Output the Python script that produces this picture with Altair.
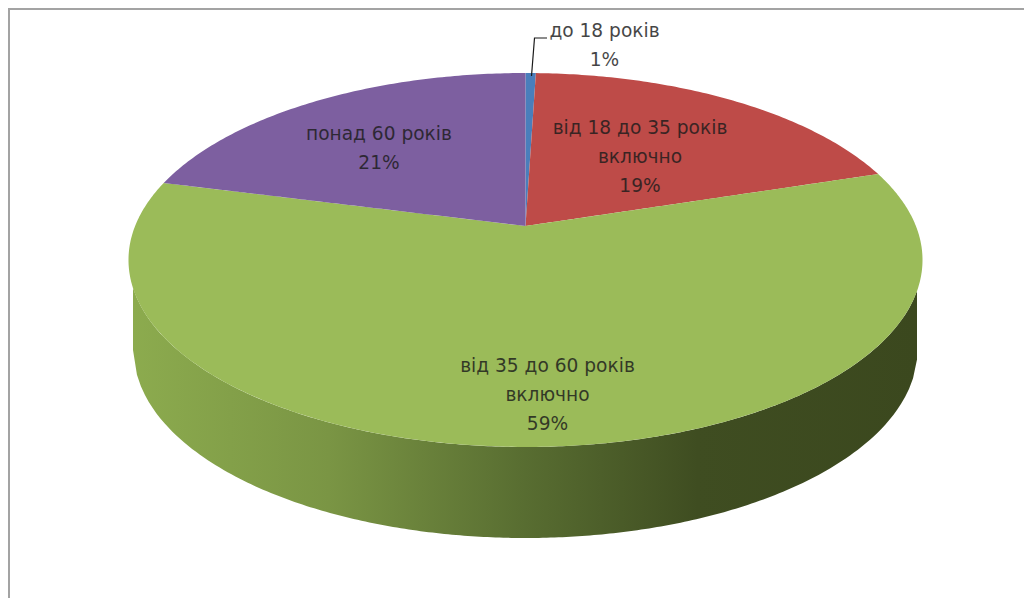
import numpy as np
import pandas as pd
import altair as alt

# Chart content
categories = ["до 18 років", "від 18 до 35 років", "від 35 до 60 років", "понад 60 років"]
values = [0.5, 19.6, 58.9, 21.0]
label_texts = ["до 18 років\n1%", "від 18 до 35 років\nвключно\n19%",
               "від 35 до 60 років\nвключно\n59%", "понад 60 років\n21%"]
colors = ["#4a7ebb", "#be4b48", "#9bbb59", "#7d5fa0"]

# Layout (image pixels)
W, H = 1016, 590
APEX_X, APEX_Y = 525.5, 226.0
P_S, P_A, P_C = 390.4, 180.8, 0.1817   # perspective of the pie's top face
label_x = [604.5, 640, 547.5, 379]
label_y = [31, 128, 366, 134]          # first line of each label


def project(angle):
    u, v = np.sin(angle), np.cos(angle)
    d = 1 + P_C * v
    return APEX_X + P_S * u / d, APEX_Y - P_A * v / d


def envelope(px, py):
    """Vertical extent of a closed polygon for each of its x positions."""
    xs = np.unique(np.round(px, 2))
    x1, y1 = px, py
    x2, y2 = np.roll(px, -1), np.roll(py, -1)
    top, bottom = [], []
    for x in xs:
        ys = []
        for a, b, c, d in zip(x1, y1, x2, y2):
            lo, hi = min(a, c) - 0.006, max(a, c) + 0.006
            if lo <= x <= hi:
                ys.append(b if abs(c - a) < 1e-9 else b + (d - b) * np.clip((x - a) / (c - a), 0, 1))
        top.append(min(ys))
        bottom.append(max(ys))
    return xs, np.array(top), np.array(bottom)


rows = []
edges = np.cumsum([0] + values) / sum(values) * 2 * np.pi
for i, cat in enumerate(categories):
    n = max(6, int(values[i] * 5))
    ang = np.linspace(edges[i], edges[i + 1], n)
    ax, ay = project(ang)
    px = np.concatenate([[APEX_X], ax])
    py = np.concatenate([[APEX_Y], ay])
    xs, t, b = envelope(px, py)
    for x, ty, by in zip(xs, t, b):
        rows.append({"cat": cat, "x": float(x), "y": float(ty), "y2": float(by)})
top_df = pd.DataFrame(rows)

# Side wall of the pie: lower half of the top face down to the lower rim
wall_x = np.linspace(133, 917, 200)
T_RX, T_RY, T_CY = 397.0, 187.0, 260.0
B_RX, B_RY, B_CY = 392.0, 188.0, 350.0
wall_y = T_CY + T_RY * np.sqrt(np.clip(1 - ((wall_x - APEX_X) / T_RX) ** 2, 0, 1))
wall_y2 = B_CY + B_RY * np.sqrt(np.clip(1 - ((wall_x - APEX_X) / B_RX) ** 2, 0, 1))
wall_df = pd.DataFrame({"x": wall_x, "y": wall_y, "y2": wall_y2})

X = alt.X("x:Q", axis=None, scale=alt.Scale(domain=[8, 8 + W], nice=False, zero=False))
Y = alt.Y("y:Q", axis=None, scale=alt.Scale(domain=[8, 8 + H], reverse=True, nice=False, zero=False))

wall = alt.Chart(wall_df).mark_area(
    line=False,
    color=alt.Gradient(
        gradient="linear", x1=0, x2=1, y1=0, y2=0,
        stops=[
            alt.GradientStop(offset=0, color="#8cab4e"),
            alt.GradientStop(offset=0.25, color="#7a9544"),
            alt.GradientStop(offset=0.5, color="#586d31"),
            alt.GradientStop(offset=0.72, color="#3f4d21"),
            alt.GradientStop(offset=1, color="#3b481e"),
        ],
    ),
).encode(x=X, y=Y, y2="y2:Q")

top = alt.Chart(top_df).mark_area(line=False).encode(
    x=X, y=Y, y2="y2:Q",
    color=alt.Color("cat:N", legend=None,
                    scale=alt.Scale(domain=categories, range=colors)),
)

leader_df = pd.DataFrame({"x": [531.5, 534.5, 547.0], "y": [76.0, 38.0, 38.0], "o": [0, 1, 2]})
leader = alt.Chart(leader_df).mark_line(color="#1a1a1a", strokeWidth=1.2).encode(
    x=X, y=Y, order="o:O")

labels_df = pd.DataFrame({"x": label_x, "y": label_y, "t": label_texts})
labels = alt.Chart(labels_df).mark_text(
    font="DejaVu Sans", fontSize=18.6, color="#1c1c1c", opacity=0.82,
    lineBreak="\n", lineHeight=29, align="center", baseline="middle",
).encode(x=X, y=Y, text="t:N")

frame_x = alt.Chart(pd.DataFrame({"x": [9.0]})).mark_rule(color="#a3a3a3", strokeWidth=2).encode(x=X)
frame_y = alt.Chart(pd.DataFrame({"y": [9.0]})).mark_rule(color="#a3a3a3", strokeWidth=2).encode(y=Y)

chart = alt.layer(frame_x, frame_y, wall, top, leader, labels).properties(
    width=W, height=H, padding=0,
    autosize=alt.AutoSizeParams(type="none"),
    background="#ffffff",
).configure_view(stroke=None)

chart.save("out.html", embed_options={"renderer": "svg", "actions": False})
